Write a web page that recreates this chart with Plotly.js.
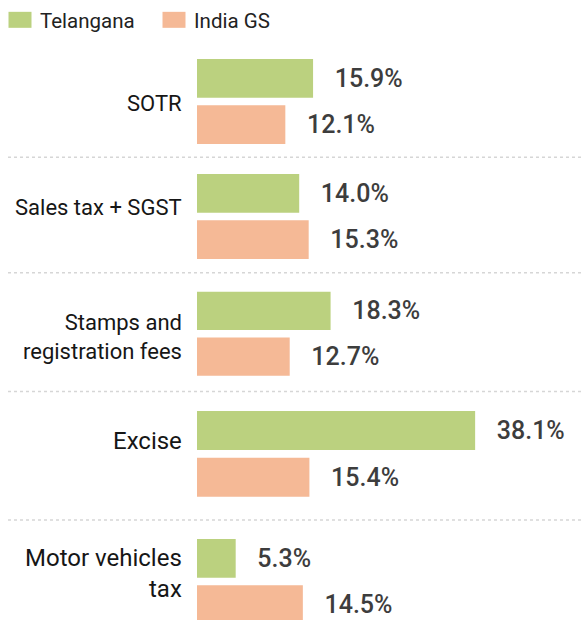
<!DOCTYPE html>
<html><head><meta charset="utf-8">
<script src="https://cdn.plot.ly/plotly-3.0.1.min.js"></script>
<style>html,body{margin:0;padding:0;overflow:hidden;background:#fff}</style>
</head><body><div id="chart" style="width:582px;height:630px"></div>
<script>
// ---- data ----
const categories = ["SOTR", "Sales tax + SGST", "Stamps and<br>registration fees", "Excise", "Motor vehicles<br>tax"];
const telangana = [15.9, 14.0, 18.3, 38.1, 5.3];
const indiaGS = [12.1, 15.3, 12.7, 15.4, 14.5];
const seriesNames = ["Telangana", "India GS"];

// ---- style / layout ----
const colors = ["#bbd17f", "#f5b996"];
const W = 582, H = 630, L = 197;
const plotW = W - L;
const pxPerUnit = 7.3;
const groupPx = [[55.25, 147.75], [170.25, 262.75], [288, 379.5], [407.25, 500.5], [535.25, 627.75]];
const labelShift = [-2, 9.5, -3, 13, 8.5];
const labelSize = [22, 22, 22, 24, 24];
const legendLeftPx = [0, 154];
const sepPx = [157.3, 272.7, 391.5, 520];
const FONT = "Roboto, 'Noto Sans', sans-serif";

const series = [telangana, indiaGS];
const legendIds = ["legend", "legend2"];
const traces = [];
const layout = {
  width: W, height: H,
  margin: {l: L, r: 0, t: 0, b: 0, pad: 0},
  paper_bgcolor: "#fff", plot_bgcolor: "#fff",
  barmode: "group", bargap: 0, bargroupgap: 0.161,
  showlegend: true,
  xaxis: {range: [0, plotW / pxPerUnit], visible: false, fixedrange: true},
  shapes: [], annotations: []
};
legendIds.forEach((id, s) => {
  layout[id] = {
    orientation: "h", x: (legendLeftPx[s] - L) / plotW, xanchor: "left", y: 1 - 20 / H, yanchor: "middle",
    font: {family: FONT, size: 20.5, color: "#222"}, bgcolor: "rgba(0,0,0,0)"
  };
});

categories.forEach((cat, i) => {
  const yid = i === 0 ? "y" : "y" + (i + 1);
  const yax = i === 0 ? "yaxis" : "yaxis" + (i + 1);
  layout[yax] = {
    domain: [1 - groupPx[i][1] / H, 1 - groupPx[i][0] / H],
    type: "category", range: [0.5, -0.5], visible: false, fixedrange: true, anchor: "x"
  };
  series.forEach((vals, s) => {
    traces.push({
      type: "bar", orientation: "h",
      x: [vals[i]], y: [cat], xaxis: "x", yaxis: yid,
      name: seriesNames[s], legend: legendIds[s], showlegend: i === 0,
      marker: {color: colors[s]},
      texttemplate: "\u00a0\u00a0\u00a0%{x:.1f}%", textposition: "outside", constraintext: "none",
      textfont: {family: FONT, size: 25, color: "#3d3d3d", weight: 500},
      cliponaxis: false, hoverinfo: "skip"
    });
  });
  layout.annotations.push({
    xref: "paper", x: 0, xshift: -13, xanchor: "right",
    yref: yid + " domain", y: 0.5, yanchor: "middle", yshift: labelShift[i],
    text: cat, showarrow: false, align: "right",
    font: {family: FONT, size: labelSize[i], color: "#161616"}
  });
});

sepPx.forEach(p => {
  layout.shapes.push({
    type: "line", xref: "paper", yref: "paper",
    x0: (8 - L) / plotW, x1: 1, y0: 1 - p / H, y1: 1 - p / H,
    line: {color: "#d6d6d6", width: 1.5, dash: "3px,3px"}
  });
});

Plotly.newPlot("chart", traces, layout, {displayModeBar: false, staticPlot: true}).then(() => {
  document.querySelectorAll(".legendpoints path").forEach(p => {
    p.setAttribute("d", "M-11.5,-8H11.5V8H-11.5Z");
  });
});
</script></body></html>
